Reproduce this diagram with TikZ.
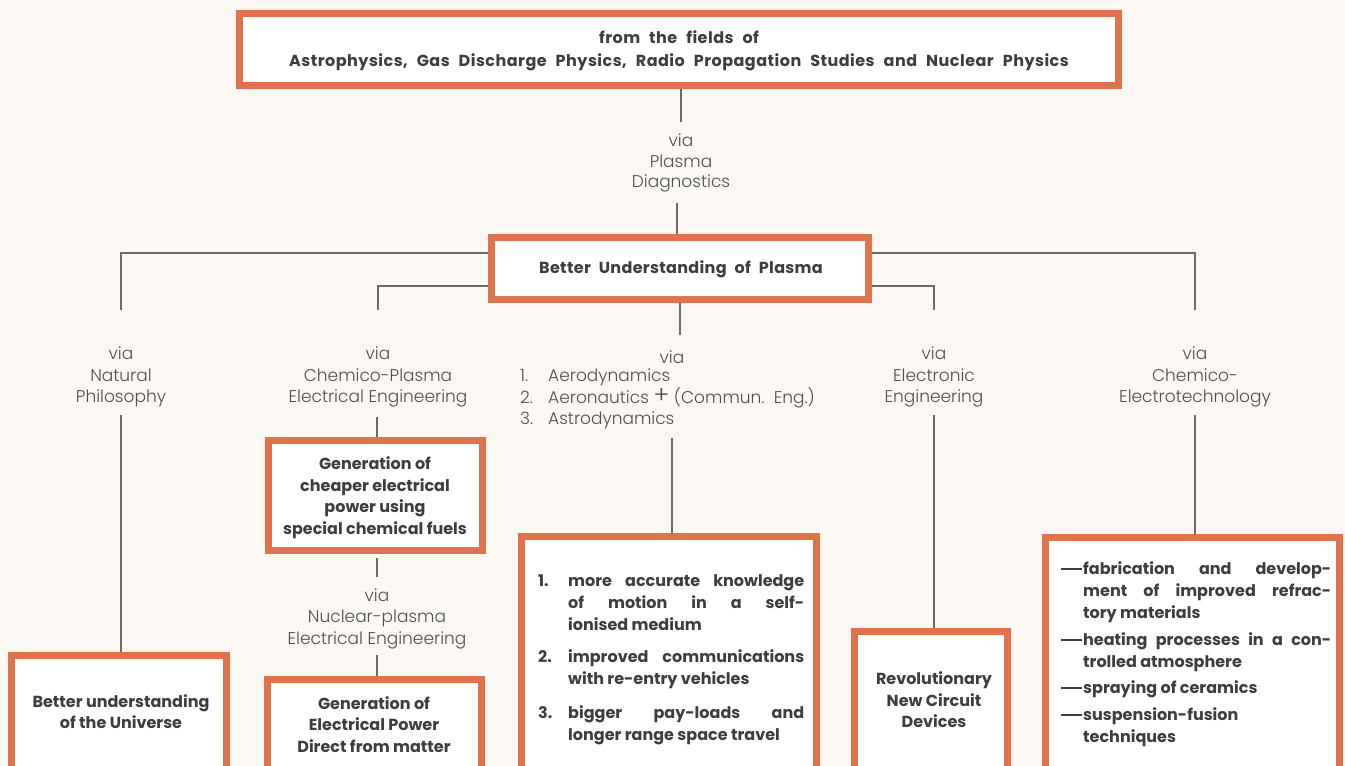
\documentclass[tikz,border=0pt]{standalone}
\usepackage{fontspec}
\setmainfont{Poppins}
\newfontfamily\lightfont{Poppins Light}
\definecolor{bg}{HTML}{FBF8F3}
\definecolor{orn}{HTML}{E0724E}
\definecolor{ln}{HTML}{6A6A6A}
\definecolor{txt}{HTML}{505050}
\definecolor{btxt}{HTML}{3D3D3D}
\newcommand{\nb}[1]{\makebox[30pt][l]{#1}}
\newcommand{\dsh}{\makebox[22pt][l]{\rule[0.27em]{21pt}{1.7pt}}}
\newcommand{\wideA}{\bfseries\fontsize{16}{23}\selectfont\addfontfeatures{LetterSpace=3}\spaceskip=9pt plus 1pt\relax}
\newcommand{\wideB}{\bfseries\fontsize{16}{21.5}\selectfont\addfontfeatures{LetterSpace=2}\spaceskip=8pt plus 1pt\relax}
\begin{document}
\begin{tikzpicture}[x=1pt,y=-1pt,
  box/.style={draw=orn, line width=7pt, fill=white, inner sep=0pt},
  bt/.style={font=\bfseries\fontsize{16}{21.5}\selectfont, text=btxt, align=center, inner sep=0pt},
  vt/.style={font=\lightfont\fontsize{17}{21.5}\selectfont, text=txt, align=center, inner sep=0pt},
  conn/.style={draw=ln, line width=1.3pt}]
\fill[bg] (0,0) rectangle (1345,766);
\clip (0,0) rectangle (1345,766);

% boxes
\node[box, minimum width=879pt, minimum height=72pt] (top) at (679,49.5) {};
\node[box, minimum width=377pt, minimum height=62pt] (mid) at (680,268.5) {};
\node[box, minimum width=214pt, minimum height=110pt] (cheap) at (375.5,495.5) {};
\node[box, minimum width=215pt, minimum height=113.5pt] (univ) at (119,712.25) {};
\node[box, minimum width=214pt, minimum height=89.5pt] (direct) at (374.5,724.25) {};
\node[box, minimum width=295pt, minimum height=232.5pt] (aero) at (669,652.75) {};
\node[box, minimum width=153pt, minimum height=137.5pt] (circ) at (931,700.25) {};
\node[box, minimum width=294pt, minimum height=231.5pt] (chem) at (1192.5,653.25) {};

% box texts
\node[bt, font=\wideA] (toptxt) at (679,50.5) {from the fields of\\Astrophysics, Gas Discharge Physics, Radio Propagation Studies and Nuclear Physics};
\node[bt, font=\wideB] (midtxt) at (681,269) {Better Understanding of Plasma};
\node[bt] (cheaptxt) at (375,497.5) {Generation of\\cheaper electrical\\power using\\special chemical fuels};
\node[bt] (univtxt) at (121,711.5) {Better understanding\\of the Universe};
\node[bt] (directtxt) at (374,724.5) {Generation of\\Electrical Power\\Direct from matter};
\node[bt] (circtxt) at (934,700) {Revolutionary\\New Circuit\\Devices};
\node[bt, font=\bfseries\fontsize{16}{22}\selectfont, text width=266pt, align=justify, anchor=north west] (aerotxt) at (538,574.5) {%
\hangindent=30pt\hangafter=1\nb{1.}more accurate knowledge\linebreak of motion in a self-\linebreak ionised medium\par\vspace{10pt}
\hangindent=30pt\hangafter=1\nb{2.}improved communications\linebreak with re-entry vehicles\par\vspace{12pt}
\hangindent=30pt\hangafter=1\nb{3.}bigger pay-loads and\linebreak longer range space travel\par};
\node[bt, font=\bfseries\fontsize{16}{22}\selectfont, text width=270pt, align=justify, anchor=north west] (chemtxt) at (1061,561) {%
\hangindent=22pt\hangafter=1\dsh fabrication and develop-\linebreak ment of improved refrac-\linebreak tory materials\par\vspace{5pt}
\hangindent=22pt\hangafter=1\dsh heating processes in a con-\linebreak trolled atmosphere\par\vspace{4pt}
\hangindent=22pt\hangafter=1\dsh spraying of ceramics\par\vspace{5pt}
\hangindent=22pt\hangafter=1\dsh suspension-fusion\\techniques\par};

% via labels
\node[vt, font=\lightfont\fontsize{17}{20.5}\selectfont] (vpd) at (681,163) {via\\Plasma\\Diagnostics};
\node[vt] (vnp) at (121,377) {via\\Natural\\Philosophy};
\node[vt] (vcp) at (378,377) {via\\Chemico-Plasma\\Electrical Engineering};
\node[vt] (vaero) at (672,357) {via};
\node[vt, align=left, anchor=west] (vlist) at (520,399) {\makebox[28pt][l]{1.}Aerodynamics\\\makebox[28pt][l]{2.}Aeronautics {\fontsize{24}{10}\selectfont +} (Commun.\ \ Eng.)\\\makebox[28pt][l]{3.}Astrodynamics};
\node[vt] (vee) at (934,377) {via\\Electronic\\Engineering};
\node[vt] (vce) at (1195,377) {via\\Chemico-\\Electrotechnology};
\node[vt] (vnuc) at (377,618.5) {via\\Nuclear-plasma\\Electrical Engineering};

% connector end points
\coordinate (pd1) at (681,122);
\coordinate (pd2) at (677,203);
\coordinate (np1) at (121,310);
\coordinate (np2) at (121,415);
\coordinate (cp1) at (378,310);
\coordinate (cp2) at (377,417);
\coordinate (ae1) at (680,335);
\coordinate (ae2) at (672,438);
\coordinate (ee1) at (934,310);
\coordinate (ee2) at (934,415);
\coordinate (ce1) at (1195,310);
\coordinate (ce2) at (1195,415);
\coordinate (ch1) at (377,558);
\coordinate (ch2) at (377,577);
\coordinate (nu1) at (377,655);

% connectors
\draw[conn] (top.south -| pd1) -- (pd1);
\draw[conn] (pd2) -- (pd2 |- mid.north);
\draw[conn] (mid.west) ++(0,-15.5) -| (np1);
\draw[conn] (mid.west) ++(0,17.5) -| (cp1);
\draw[conn] (mid.east) ++(0,-15.5) -| (ce1);
\draw[conn] (mid.east) ++(0,17.5) -| (ee1);
\draw[conn] (mid.south -| ae1) -- (ae1);
\draw[conn] (np2) -- (np2 |- univ.north);
\draw[conn] (cp2) -- (cp2 |- cheap.north);
\draw[conn] (ae2) -- (ae2 |- aero.north);
\draw[conn] (ee2) -- (ee2 |- circ.north);
\draw[conn] (ce2) -- (ce2 |- chem.north);
\draw[conn] (ch1) -- (ch2);
\draw[conn] (nu1) -- (nu1 |- direct.north);
\end{tikzpicture}
\end{document}
